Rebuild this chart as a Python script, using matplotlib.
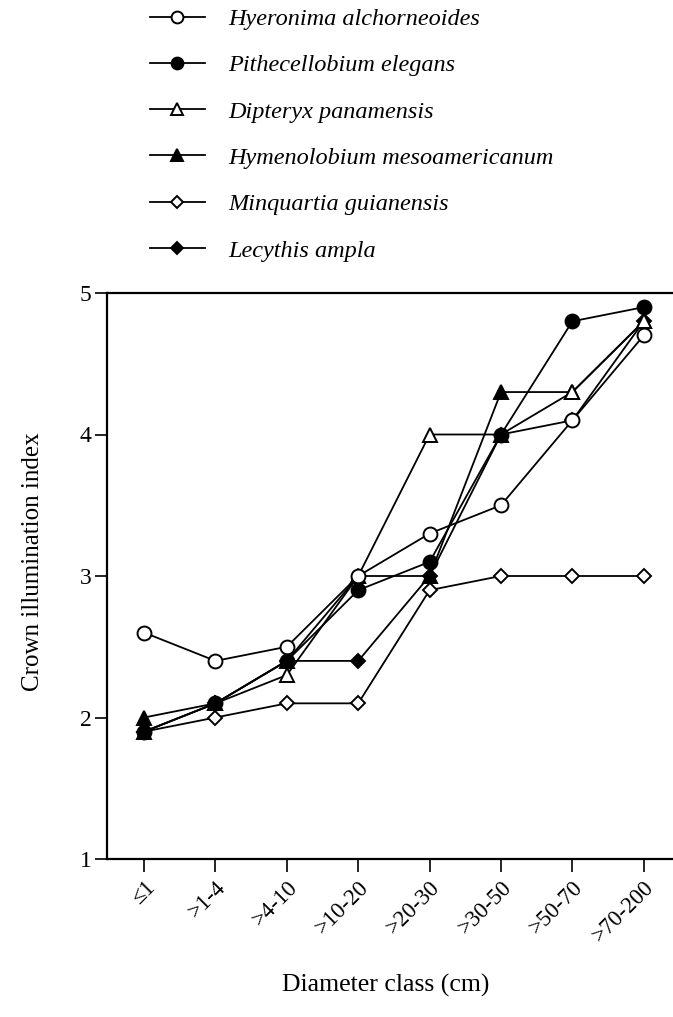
import numpy as np
import matplotlib
matplotlib.use("Agg")
import matplotlib.pyplot as plt

plt.rcParams['font.family'] = ['Liberation Serif', 'DejaVu Serif']

classes = ["\u22641", ">1-4", ">4-10", ">10-20", ">20-30", ">30-50", ">50-70", ">70-200"]

species = ["Hyeronima alchorneoides", "Pithecellobium elegans", "Dipteryx panamensis",
           "Hymenolobium mesoamericanum", "Minquartia guianensis", "Lecythis ampla"]

hyeronima = [2.6, 2.4, 2.5, 3.0, 3.3, 3.5, 4.1, 4.7]
pithecellobium = [1.9, 2.1, 2.4, 2.9, 3.1, 4.0, 4.8, 4.9]
dipteryx = [1.9, 2.1, 2.3, 3.0, 4.0, 4.0, 4.3, 4.8]
hymenolobium = [2.0, 2.1, 2.4, 3.0, 3.0, 4.3, 4.3, 4.8]
minquartia = [1.9, 2.0, 2.1, 2.1, 2.9, 3.0, 3.0, 3.0]
lecythis = [1.9, 2.1, 2.4, 2.4, 3.0, 4.0, 4.1, 4.8]

series = [hyeronima, pithecellobium, dipteryx, hymenolobium, minquartia, lecythis]
markers = ['o', 'o', '^', '^', 'D', 'D']
fills = ['white', 'black', 'white', 'black', 'white', 'black']
msizes = [10, 10, 9.5, 9.5, 7.5, 7.5]
zorders = [6, 7, 5, 4, 3, 2]

fig = plt.figure(figsize=(6.73, 10.17), dpi=100)
ax = fig.add_axes([107/673, 1 - 859/1017, 1 - 107/673, 566/1017])

x = np.arange(len(classes))
handles = []
for vals, name, m, fc, ms, z in zip(series, species, markers, fills, msizes, zorders):
    h, = ax.plot(x, vals, color='black', lw=1.3, marker=m, markersize=ms,
                 markerfacecolor=fc, markeredgecolor='black', markeredgewidth=1.4,
                 label=name, zorder=z, clip_on=False)
    handles.append(h)

ax.set_xlim(-0.52, 7.41)
ax.set_ylim(1, 5)
ax.set_yticks([1, 2, 3, 4, 5])
ax.set_xticks(x)
ax.set_xticklabels(classes, rotation=45, ha='right', rotation_mode='anchor', fontsize=16.5)
ax.tick_params(axis='y', direction='out', length=9, width=1.2, labelsize=17, pad=2)
ax.tick_params(axis='x', direction='out', length=9, width=1.2, pad=4)
ax.spines['right'].set_visible(False)
for s in ['left', 'top', 'bottom']:
    ax.spines[s].set_linewidth(1.6)

ax.set_ylabel("Crown illumination index", fontsize=18)
ax.yaxis.set_label_coords(-0.13, 0.525)
ax.set_xlabel("Diameter class (cm)", fontsize=18.5)
ax.xaxis.set_label_coords(0.493, -0.223)
ax.xaxis.label.set_va('center')
ax.yaxis.label.set_va('center')

leg = fig.legend(handles=handles, loc='upper left', bbox_to_anchor=(150/673, 1 - 8/1017),
                 frameon=False, handlelength=2.26, handletextpad=0.95,
                 borderpad=0, borderaxespad=0,
                 labelspacing=1.0, markerscale=0.85, prop={'style': 'italic', 'size': 17.5})

fig.savefig("out.png", dpi=100)
